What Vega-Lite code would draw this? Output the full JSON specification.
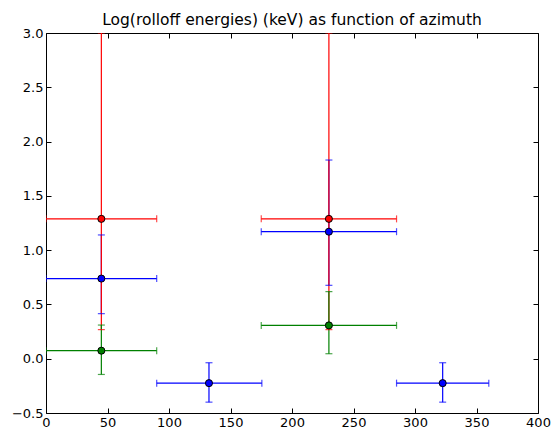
{
  "$schema": "https://vega.github.io/schema/vega-lite/v6.json",
  "width": 492,
  "height": 380,
  "autosize": {"type": "none"},
  "padding": {"left": 46, "top": 33, "right": 15, "bottom": 16},
  "background": "white",
  "title": {"text": "Log(rolloff energies) (keV) as function of azimuth", "fontSize": 15.5, "font": "DejaVu Sans", "fontWeight": "normal", "color": "black", "offset": -1},
  "config": {
    "view": {"stroke": "black", "strokeWidth": 1},
    "axis": {"domain": false, "grid": false, "ticks": true, "tickColor": "black", "tickSize": -5, "labelPadding": 8, "labelFlush": false, "labelOverlap": false, "labelFont": "DejaVu Sans", "labelFontSize": 13, "labelColor": "black", "title": null}
  },
  "data": {"values": [
    {"series": "blue", "x": 45, "xlo": 0, "xhi": 90, "y": 0.738, "ylo": 0.415, "yhi": 1.14},
    {"series": "blue", "x": 132.5, "xlo": 90, "xhi": 175.5, "y": -0.225, "ylo": -0.40, "yhi": -0.037},
    {"series": "blue", "x": 230, "xlo": 175, "xhi": 285, "y": 1.17, "ylo": 0.676, "yhi": 1.83},
    {"series": "blue", "x": 322.5, "xlo": 285, "xhi": 360, "y": -0.225, "ylo": -0.40, "yhi": -0.037},
    {"series": "red", "x": 45, "xlo": 0, "xhi": 90, "y": 1.288, "ylo": 0.268, "yhi": 3.0},
    {"series": "red", "x": 230, "xlo": 175, "xhi": 285, "y": 1.288, "ylo": 0.268, "yhi": 3.0},
    {"series": "green", "x": 45, "xlo": 0, "xhi": 90, "y": 0.074, "ylo": -0.145, "yhi": 0.31},
    {"series": "green", "x": 230, "xlo": 175, "xhi": 285, "y": 0.307, "ylo": 0.046, "yhi": 0.618}
  ]},
  "layer": [
    {
      "mark": {"type": "rule", "strokeWidth": 1.2, "clip": true},
      "encoding": {
        "x": {"field": "x", "type": "quantitative", "scale": {"domain": [0, 400], "nice": false, "zero": false}, "axis": {"orient": "bottom", "labelPadding": 8, "values": [0, 50, 100, 150, 200, 250, 300, 350, 400]}},
        "y": {"field": "ylo", "type": "quantitative", "scale": {"domain": [-0.5, 3.0], "nice": false, "zero": false}, "axis": {"orient": "left", "labelPadding": 8, "values": [-0.5, 0, 0.5, 1, 1.5, 2, 2.5, 3], "format": ".1f"}},
        "y2": {"field": "yhi"},
        "color": {"field": "series", "type": "nominal", "scale": {"domain": ["red", "blue", "green"], "range": ["#ff0000", "#0000ff", "#008000"]}, "legend": null}
      }
    },
    {
      "mark": {"type": "rule", "strokeWidth": 1.2, "clip": true},
      "encoding": {
        "x": {"field": "xlo", "type": "quantitative", "scale": {"domain": [0, 400], "nice": false, "zero": false}, "axis": {"orient": "top", "labels": false, "values": [0, 50, 100, 150, 200, 250, 300, 350, 400]}},
        "x2": {"field": "xhi"},
        "y": {"field": "y", "type": "quantitative", "scale": {"domain": [-0.5, 3.0], "nice": false, "zero": false}, "axis": {"orient": "right", "labels": false, "values": [-0.5, 0, 0.5, 1, 1.5, 2, 2.5, 3]}},
        "color": {"field": "series", "type": "nominal", "legend": null}
      }
    },
    {
      "transform": [{"fold": ["ylo", "yhi"], "as": ["end", "yend"]}],
      "mark": {"type": "tick", "orient": "horizontal", "size": 7, "thickness": 1.2, "clip": true},
      "encoding": {
        "x": {"field": "x", "type": "quantitative", "axis": null},
        "y": {"field": "yend", "type": "quantitative", "axis": null},
        "color": {"field": "series", "type": "nominal", "legend": null}
      }
    },
    {
      "transform": [{"fold": ["xlo", "xhi"], "as": ["end", "xend"]}],
      "mark": {"type": "tick", "orient": "vertical", "size": 7, "thickness": 1.2, "clip": true},
      "encoding": {
        "x": {"field": "xend", "type": "quantitative", "axis": null},
        "y": {"field": "y", "type": "quantitative", "axis": null},
        "color": {"field": "series", "type": "nominal", "legend": null}
      }
    },
    {
      "mark": {"type": "point", "filled": true, "size": 50, "stroke": "black", "strokeWidth": 1, "opacity": 1, "clip": true},
      "encoding": {
        "x": {"field": "x", "type": "quantitative", "axis": null},
        "y": {"field": "y", "type": "quantitative", "axis": null},
        "fill": {"field": "series", "type": "nominal", "scale": {"domain": ["red", "blue", "green"], "range": ["#ff0000", "#0000ff", "#008000"]}, "legend": null}
      }
    }
  ],
  "resolve": {"axis": {"x": "independent", "y": "independent"}}
}
